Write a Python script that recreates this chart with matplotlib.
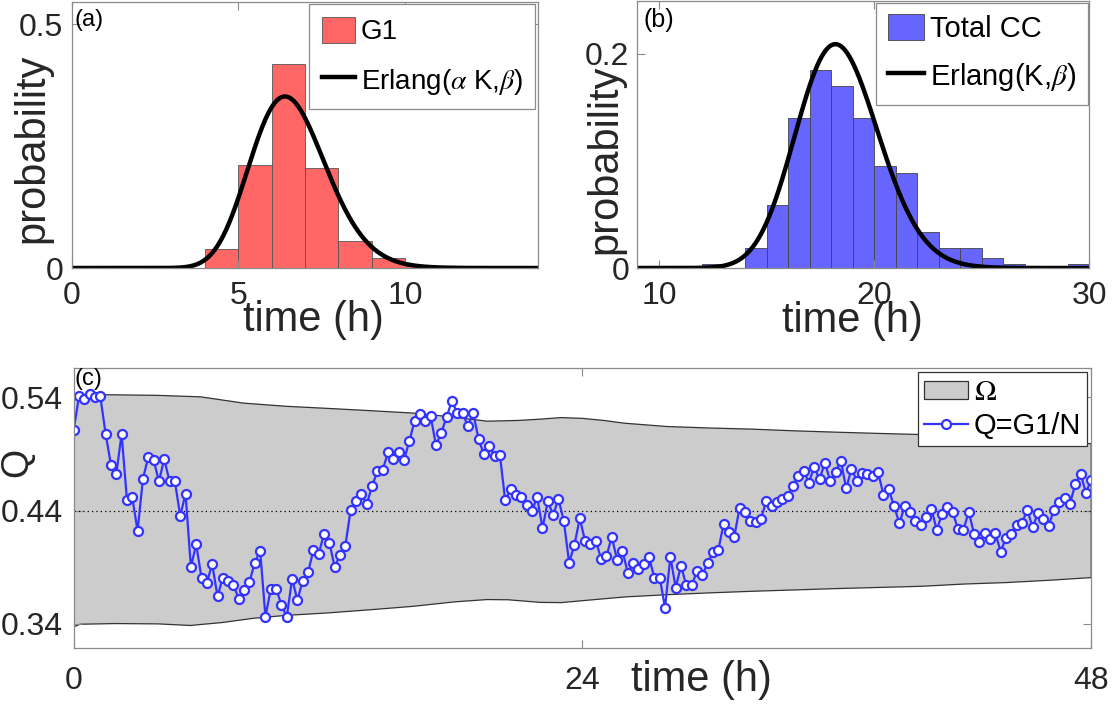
import math
import numpy as np
import matplotlib
matplotlib.use('Agg')
import matplotlib.pyplot as plt

plt.rcParams['font.family'] = ['Liberation Sans', 'DejaVu Sans']
plt.rcParams['mathtext.fontset'] = 'stix'

# ---- panel (a): G1 duration histogram ----
g1_edges = [4, 5, 6, 7, 8, 9, 10, 11, 12]
g1_prob = [0.040, 0.212, 0.418, 0.206, 0.056, 0.021, 0.005, 0.005]

# ---- panel (b): total cell cycle histogram ----
cc_edges = list(range(12, 31))
cc_prob = [0.004, 0.0, 0.019, 0.059, 0.140, 0.185, 0.170, 0.140, 0.095,
           0.089, 0.034, 0.019, 0.019, 0.009, 0.004, 0.0, 0.0, 0.004]

# Erlang fit parameters
K = 92          # total cycle shape
alpha_K = 33    # G1 shape (alpha*K)
beta = 5.0      # rate (1/h)

# ---- panel (c): Q = G1/N time series (sampled every ~15 min over 48 h) ----
Q = [0.5112, 0.5409, 0.5385, 0.5426, 0.5403, 0.5409, 0.5079, 0.4806, 0.4724, 0.5076,
     0.4497, 0.4518, 0.4221, 0.4679, 0.4874, 0.4850, 0.4659, 0.4856, 0.4659, 0.4659,
     0.4353, 0.4550, 0.3903, 0.4103, 0.3806, 0.3762, 0.3929, 0.3644, 0.3809, 0.3779,
     0.3741, 0.3621, 0.3700, 0.3771, 0.3941, 0.4047, 0.3465, 0.3706, 0.3712, 0.3568,
     0.3462, 0.3797, 0.3609, 0.3782, 0.3856, 0.4050, 0.4018, 0.4197, 0.4118, 0.3900,
     0.4012, 0.4091, 0.4409, 0.4482, 0.4550, 0.4456, 0.4615, 0.4747, 0.4759, 0.4915,
     0.4853, 0.4921, 0.4847, 0.5012, 0.5194, 0.5250, 0.5194, 0.5238, 0.4979, 0.5088,
     0.5226, 0.5371, 0.5259, 0.5262, 0.5147, 0.5262, 0.5032, 0.4897, 0.4971, 0.4885,
     0.4894, 0.4491, 0.4588, 0.4541, 0.4518, 0.4447, 0.4397, 0.4518, 0.4247, 0.4482,
     0.4362, 0.4503, 0.4309, 0.3941, 0.4100, 0.4332, 0.4132, 0.4106, 0.4135, 0.3976,
     0.3997, 0.4168, 0.3968, 0.4047, 0.3853, 0.3938, 0.3888, 0.3929, 0.3988, 0.3809,
     0.3809, 0.3544, 0.3991, 0.3721, 0.3912, 0.3741, 0.3741, 0.3865, 0.3832, 0.3935,
     0.4035, 0.4050, 0.4285, 0.4209, 0.4171, 0.4426, 0.4388, 0.4312, 0.4297, 0.4326,
     0.4485, 0.4444, 0.4476, 0.4500, 0.4532, 0.4621, 0.4709, 0.4753, 0.4647, 0.4788,
     0.4676, 0.4824, 0.4665, 0.4744, 0.4841, 0.4597, 0.4768, 0.4665, 0.4735, 0.4721,
     0.4703, 0.4741, 0.4538, 0.4588, 0.4438, 0.4288, 0.4444, 0.4391, 0.4306, 0.4274,
     0.4341, 0.4415, 0.4232, 0.4368, 0.4435, 0.4388, 0.4235, 0.4226, 0.4391, 0.4197,
     0.4121, 0.4206, 0.4153, 0.4203, 0.4038, 0.4159, 0.4197, 0.4276, 0.4291, 0.4406,
     0.4253, 0.4379, 0.4326, 0.4265, 0.4406, 0.4474, 0.4509, 0.4459, 0.4632, 0.4726,
     0.4559, 0.4671]
Q_mean = 0.44

# Omega band (upper / lower boundary)
up_t = [0, 2, 4, 6, 8, 10, 12, 14, 16, 18, 19.5, 21, 22, 23, 24, 25, 26, 28, 30,
        32, 34, 36, 38, 40, 42, 44, 46, 48]
up_q = [0.5426, 0.5423, 0.5418, 0.5405, 0.5350, 0.5322, 0.5303, 0.5283, 0.5262,
        0.5225, 0.5190, 0.5197, 0.5208, 0.5222, 0.5215, 0.5197, 0.5172, 0.5143,
        0.5130, 0.5120, 0.5105, 0.5093, 0.5082, 0.5072, 0.5058, 0.5040, 0.5017, 0.4991]
lo_t = [0, 0.3, 2, 4, 5.5, 7, 8.5, 10, 12, 14, 16, 18, 19.5, 20.5, 22, 23, 24, 26,
        28, 30, 32, 34, 36, 38, 40, 42, 44, 46, 48]
lo_q = [0.3374, 0.3397, 0.3403, 0.3400, 0.3386, 0.3412, 0.3450, 0.3475, 0.3497,
        0.3525, 0.3555, 0.3595, 0.3615, 0.3613, 0.3590, 0.3588, 0.3605, 0.3638,
        0.3658, 0.3674, 0.3688, 0.3700, 0.3712, 0.3722, 0.3732, 0.3752, 0.3765,
        0.3785, 0.3809]


def erlang_pdf(t, k, rate):
    t = np.asarray(t, dtype=float)
    out = np.zeros_like(t)
    m = t > 0
    logf = k * math.log(rate) + (k - 1) * np.log(t[m]) - rate * t[m] - math.lgamma(k)
    out[m] = np.exp(logf)
    return out


SPINE = '#8a8a8a'
TXT = '#262626'
TICK_FS = 23
LAB_FS = 30


def style_axes(ax):
    for s in ax.spines.values():
        s.set_color(SPINE)
        s.set_linewidth(0.9)
    ax.tick_params(direction='in', length=6, width=0.8, color=SPINE,
                   labelcolor=TXT, labelsize=TICK_FS, top=True, right=True)
    ax.tick_params(axis='x', pad=9)
    ax.tick_params(axis='y', pad=6)


fig = plt.figure(figsize=(11.16, 7.04), dpi=100)

# ---------------- (a) ----------------
ax1 = fig.add_axes([0.0642, 0.6193, 0.4181, 0.3783])
bars1 = ax1.bar(g1_edges[:-1], g1_prob, width=np.diff(g1_edges), align='edge',
                color='#ff6666', edgecolor='#555555', linewidth=0.6, label='G1')
ta = np.linspace(0, 14, 600)
line1, = ax1.plot(ta, erlang_pdf(ta, alpha_K, beta), color='k', lw=3.2,
                  label=r'Erlang($\alpha$ K,$\beta$)')
ax1.set_xlim(0, 14)
ax1.set_ylim(0, 0.546)
ax1.set_xticks([0, 5, 10])
ax1.set_yticks([0, 0.5])
ax1.set_yticklabels(['0', '0.5'])
style_axes(ax1)
ax1.text(0.519, -0.195, 'time (h)', transform=ax1.transAxes, ha='center',
         va='center', fontsize=LAB_FS, color=TXT)
ax1.text(-0.085, 0.449, 'probability', transform=ax1.transAxes, ha='center',
         va='center', rotation=90, fontsize=LAB_FS, color=TXT)
ax1.text(0.038, 0.931, '(a)', transform=ax1.transAxes, ha='center', va='center',
         fontsize=17, color='k')
leg = ax1.legend(handles=[bars1, line1], loc='upper right', fontsize=20,
                 handlelength=1.2, handleheight=1.05, handletextpad=0.2,
                 borderpad=0.45, labelspacing=0.75, borderaxespad=0.1,
                 fancybox=False, framealpha=1)
leg.get_frame().set_edgecolor(SPINE)
leg.get_frame().set_linewidth(0.9)

# ---------------- (b) ----------------
ax2 = fig.add_axes([0.5712, 0.6193, 0.4048, 0.3790])
bars2 = ax2.bar(cc_edges[:-1], cc_prob, width=np.diff(cc_edges), align='edge',
                color='#6666ff', edgecolor='#444444', linewidth=0.6, label='Total CC')
tb = np.linspace(9, 30, 600)
line2, = ax2.plot(tb, erlang_pdf(tb, K, beta), color='k', lw=3.2,
                  label=r'Erlang(K,$\beta$)')
ax2.set_xlim(9, 30)
ax2.set_ylim(0, 0.249)
ax2.set_xticks([10, 20, 30])
ax2.set_yticks([0, 0.2])
ax2.set_yticklabels(['0', '0.2'])
style_axes(ax2)
ax2.text(0.475, -0.20, 'time (h)', transform=ax2.transAxes, ha='center',
         va='center', fontsize=LAB_FS, color=TXT)
ax2.text(-0.072, 0.406, 'probability', transform=ax2.transAxes, ha='center',
         va='center', rotation=90, fontsize=LAB_FS, color=TXT)
ax2.text(0.048, 0.929, '(b)', transform=ax2.transAxes, ha='center', va='center',
         fontsize=18, color='k')
leg = ax2.legend(handles=[bars2, line2], loc='upper right', fontsize=21,
                 handlelength=1.25, handleheight=1.0, handletextpad=0.2,
                 borderpad=0.4, labelspacing=0.6, borderaxespad=0.05,
                 fancybox=False, framealpha=1)
leg.get_frame().set_edgecolor(SPINE)
leg.get_frame().set_linewidth(0.9)

# ---------------- (c) ----------------
ax3 = fig.add_axes([0.0660, 0.0800, 0.9118, 0.3973])
band_t = np.array(up_t + lo_t[::-1])
band_q = np.array(up_q + lo_q[::-1])
ax3.fill(band_t, band_q, facecolor='#cccccc', edgecolor='#333333', linewidth=0.9,
         label=r'$\Omega$')
ax3.axhline(Q_mean, color='k', linestyle=(0, (1, 2.5)), linewidth=0.9)
t = np.linspace(0, 48, len(Q))
ax3.plot(t, Q, color='#3333ff', lw=1.6, marker='o', markersize=6.5,
         markerfacecolor='white', markeredgecolor='#3333ff', markeredgewidth=1.6,
         label='Q=G1/N')
ax3.set_xlim(0, 48)
ax3.set_ylim(0.319, 0.566)
ax3.set_xticks([0, 24, 48])
ax3.set_yticks([0.34, 0.44, 0.54])
ax3.set_yticklabels(['0.34', '0.44', '0.54'])
style_axes(ax3)
ax3.tick_params(axis='x', pad=13)
ax3.tick_params(axis='y', pad=8)
ax3.text(0.617, -0.1155, 'time (h)', transform=ax3.transAxes, ha='center',
         va='center', fontsize=LAB_FS, color=TXT)
ax3.text(-0.055, 0.664, 'Q', transform=ax3.transAxes, ha='center', va='center',
         rotation=90, fontsize=27, color=TXT)
ax3.text(0.0145, 0.961, '(c)', transform=ax3.transAxes, ha='center', va='center',
         fontsize=17, color='k')
leg = ax3.legend(loc='upper right', fontsize=21, handlelength=1.5, handleheight=0.6,
                 handletextpad=0.2, borderpad=0.2, labelspacing=0.2,
                 borderaxespad=0.15, fancybox=False, framealpha=1)
leg.get_frame().set_edgecolor('#333333')
leg.get_frame().set_linewidth(0.9)

fig.savefig('out.png', dpi=100)
